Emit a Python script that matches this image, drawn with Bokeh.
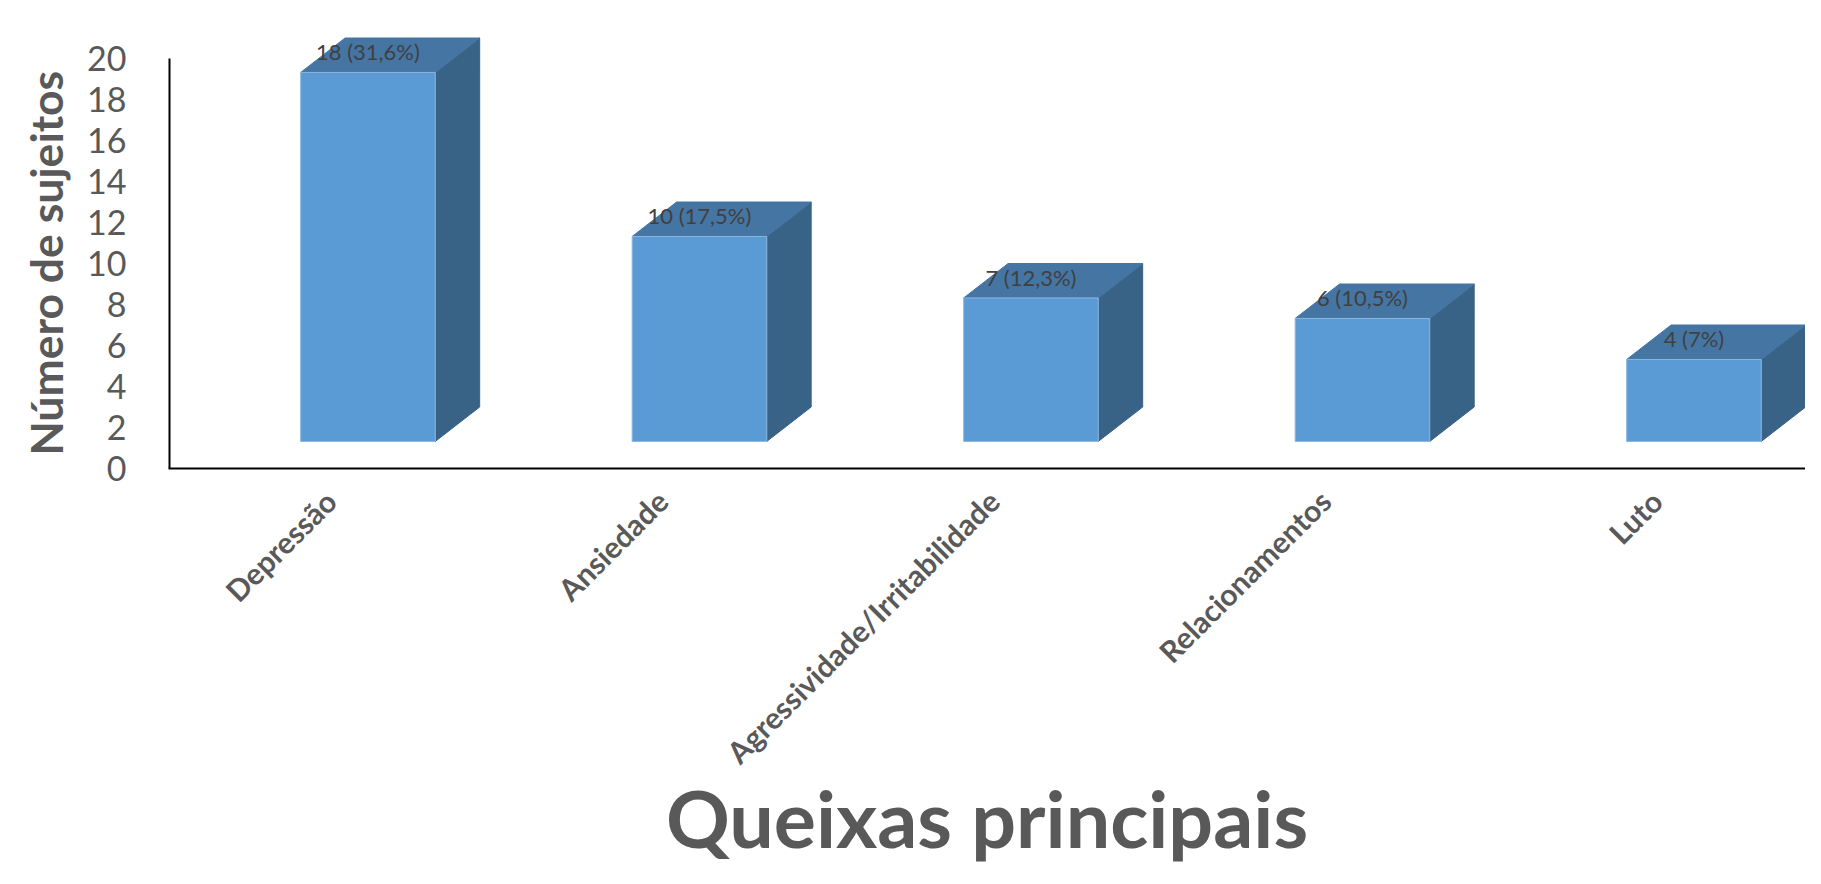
import numpy as np
from math import pi
from bokeh.plotting import figure
from bokeh.models import FixedTicker, Range1d, Title
from bokeh.core.properties import value
from bokeh.embed import file_html
from bokeh.resources import INLINE

# ---- data ----
categorias = ["Depressão", "Ansiedade", "Agressividade/Irritabilidade", "Relacionamentos", "Luto"]
sujeitos = [18, 10, 7, 6, 4]
percentuais = ["31,6", "17,5", "12,3", "10,5", "7"]
y_ticks = [0, 2, 4, 6, 8, 10, 12, 14, 16, 18, 20]
titulo_x = "Queixas principais"
titulo_y = "Número de sujeitos"

rotulos = [f"{n} ({pc}%)" for n, pc in zip(sujeitos, percentuais)]

# ---- layout / 3D-look geometry (style constants) ----
W, H = 1805, 868
FRAME_LEFT, FRAME_TOP, FRAME_BOTTOM = 168, 12, 468
UNIT_X = 331.5          # px per category
TICK0_PX = 330.0        # px of first category
PX_PER_VAL = 20.5       # px per value unit
BASE = 1.32             # floor offset of the front face
DX = 0.134              # depth in x (category units)
DY = 1.68               # depth in y (value units)
LEFT = -0.09
RIGHT = 0.316

X0 = -(TICK0_PX - FRAME_LEFT) / UNIT_X
X1 = X0 + (W - FRAME_LEFT) / UNIT_X
Y1 = (FRAME_BOTTOM - FRAME_TOP) / PX_PER_VAL

pos = np.arange(len(categorias))
vals = np.array(sujeitos, dtype=float)
xl = pos + LEFT
xr = pos + RIGHT
y0 = np.full(len(vals), BASE)
y1 = BASE + vals

p = figure(width=W, height=H, output_backend="svg", toolbar_location=None,
           x_range=Range1d(X0, X1), y_range=Range1d(0, Y1),
           min_border_left=FRAME_LEFT, min_border_right=0, min_border_top=FRAME_TOP,
           min_border_bottom=H - FRAME_BOTTOM)
p.outline_line_color = None
p.grid.visible = False
p.background_fill_color = "white"

FRONT = "#5B9BD5"
TOP = "#4575A3"
SIDE = "#386387"

side_xs = [[a, a + DX, a + DX, a] for a in xr]
side_ys = [[b, b + DY, c + DY, c] for b, c in zip(y0, y1)]
top_xs = [[a, b, b + DX, a + DX] for a, b in zip(xl, xr)]
top_ys = [[c, c, c + DY, c + DY] for c in y1]

p.patches(side_xs, side_ys, fill_color=SIDE, line_color=SIDE, line_width=1)
p.patches(top_xs, top_ys, fill_color=TOP, line_color=TOP, line_width=1)
p.quad(left=xl, right=xr, bottom=y0, top=y1, fill_color=FRONT,
       line_color="#8DB6DF", line_width=1)

p.text(x=pos + (LEFT + RIGHT) / 2, y=y1 + DY, text=rotulos, text_align="center",
       text_baseline="top", text_font=value("Lato"), text_font_size="22px",
       text_color="#404040")

# y axis line only from 0 to 20
p.segment(x0=[X0], y0=[y_ticks[0]], x1=[X0], y1=[y_ticks[-1]],
          line_color="black", line_width=4)

# y axis
ya = p.yaxis[0]
ya.ticker = FixedTicker(ticks=y_ticks)
ya.axis_line_color = None
ya.major_tick_line_color = None
ya.minor_tick_line_color = None
ya.major_label_text_font = "Lato"
ya.major_label_text_font_size = "34px"
ya.major_label_text_color = "#595959"
ya.major_label_standoff = 36

t = Title(text=titulo_y, align="left", offset=13, standoff=26, text_font="Lato",
          text_font_size="44.5px", text_font_style="bold", text_color="#595959")
p.add_layout(t, "left")

# x axis
xa = p.xaxis[0]
xa.ticker = FixedTicker(ticks=[int(i) for i in pos])
xa.major_label_overrides = {int(i): c for i, c in zip(pos, categorias)}
xa.major_label_orientation = pi / 4
xa.major_label_text_font = "Lato"
xa.major_label_text_font_style = "bold"
xa.major_label_text_font_size = "30px"
xa.major_label_text_color = "#595959"
xa.major_label_standoff = 21
xa.major_tick_line_color = None
xa.minor_tick_line_color = None
xa.axis_line_color = "black"
xa.axis_line_width = 2
xa.axis_label = titulo_x
xa.axis_label_text_font = "Lato"
xa.axis_label_text_font_style = "bold"
xa.axis_label_text_font_size = "79px"
xa.axis_label_text_color = "#595959"
xa.axis_label_standoff = -16

open("out.html", "w").write(file_html(p, INLINE))
